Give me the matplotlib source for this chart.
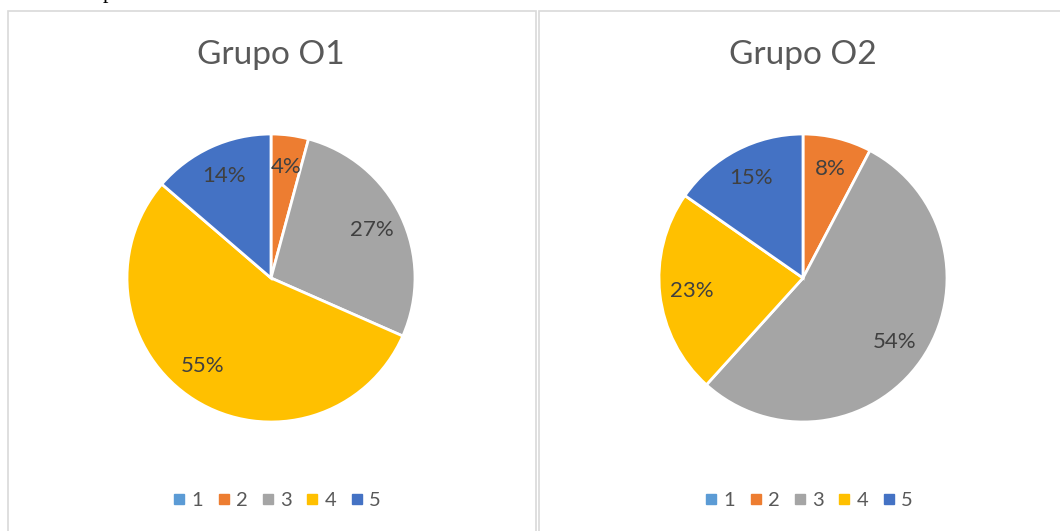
import numpy as np
import matplotlib
matplotlib.use('Agg')
import matplotlib.pyplot as plt
from matplotlib.patches import Rectangle
from matplotlib.lines import Line2D

categories = ['1', '2', '3', '4', '5']
titles = ['Grupo O1', 'Grupo O2']
# shares in %, labels shown rounded
values_o1 = [0, 4.2, 27.4, 54.7, 13.7]
values_o2 = [0, 7.7, 54.0, 23.0, 15.3]
colors = ['#5B9BD5', '#ED7D31', '#A5A5A5', '#FFC000', '#4472C4']

plt.rcParams['font.family'] = ['Lato', 'DejaVu Sans']

W, H = 1060, 531
fig = plt.figure(figsize=(W / 100, H / 100), dpi=100)
fig.patch.set_facecolor('white')

# panel frames (pixel coords -> figure fractions)
def px_rect(x0, y0, x1, y1):
    return Rectangle((x0 / W, 1 - y1 / H), (x1 - x0) / W, (y1 - y0) / H,
                     transform=fig.transFigure, fill=False,
                     edgecolor='#D9D9D9', linewidth=1.2)

fig.patches.append(px_rect(7.5, 10.5, 536, 540))
fig.patches.append(px_rect(538.5, 10.5, 1070, 540))

# bit of document text cut off above the charts
fig.text(108 / W, 1 + 2 / H, 'p', family='Liberation Serif', fontsize=16,
         color='black', ha='center', va='baseline')

centers = [271, 803]
radius = 144
# Excel "best fit" moves a label a little off the mid angle
label_shift = {(0, 3): (-0.06, 0.05)}

for i, vals in enumerate([values_o1, values_o2]):
    cx, cy = centers[i], 278
    ax = fig.add_axes([(cx - radius) / W, (H - cy - radius) / H,
                       2 * radius / W, 2 * radius / H])
    wedges, _ = ax.pie(vals, colors=colors, startangle=90, counterclock=False,
                       wedgeprops=dict(edgecolor='white', linewidth=2.0))
    ax.set_xlim(-1.0, 1.0)
    ax.set_ylim(-1.0, 1.0)
    ax.set_aspect('equal')
    total = sum(vals)
    start = 90.0
    for j, v in enumerate(vals):
        sweep = 360.0 * v / total
        mid = np.deg2rad(start - sweep / 2)
        start -= sweep
        if v == 0:
            continue
        sx, sy = label_shift.get((i, j), (0, 0))
        ax.text(0.78 * np.cos(mid) + sx, 0.78 * np.sin(mid) + sy,
                f'{round(v)}%', ha='center', va='center', fontsize=16,
                color='#404040')

    fig.text(cx / W, 1 - 55 / H, titles[i], ha='center', va='center',
             fontsize=24, color='#595959')

    handles = [Line2D([], [], marker='s', linestyle='none', markersize=7,
                      markerfacecolor=c, markeredgecolor=c) for c in colors]
    fig.legend(handles, categories, ncol=5, loc='center',
               bbox_to_anchor=((cx + 5) / W, 1 - 500 / H), frameon=False,
               fontsize=14.5, labelcolor='#595959', handlelength=0.8,
               handletextpad=0.2, columnspacing=0.62)

fig.savefig('out.png', dpi=100)
